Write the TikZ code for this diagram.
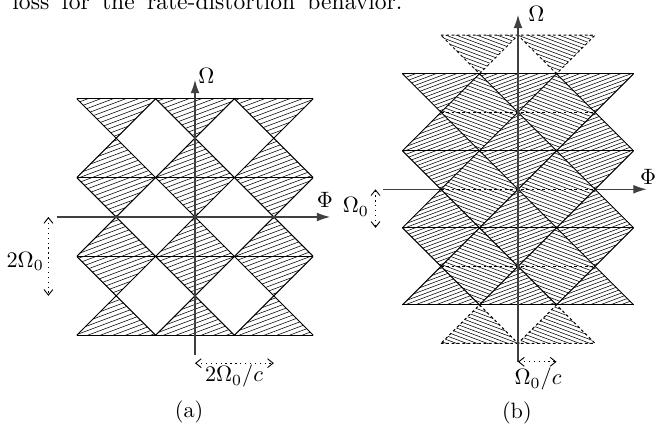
\documentclass[tikz,border=0pt]{standalone}
\usepackage{amsmath}
\usetikzlibrary{arrows.meta}

\begin{document}
\begin{tikzpicture}[x=0.45pt, y=0.45pt,
  edge/.style={line width=0.45pt},
  ghost/.style={line width=0.45pt, dash pattern=on 1.2pt off 1.2pt},
  hatchline/.style={line width=0.25pt},
  axis/.style={line width=0.6pt, draw=black!75, -{Latex[length=6pt,width=4pt]}},
  span/.style={line width=0.4pt, dash pattern=on 0.6pt off 1.6pt,
               {Straight Barb[length=2.5pt,width=4pt]}-{Straight Barb[length=2.5pt,width=4pt]}}]

  \useasboundingbox (0,0) rectangle (655,427);
  \node[anchor=base west, inner sep=0pt, font=\fontsize{10.6}{12}\selectfont] (text) at (12,417)
       {\makebox[175.5pt][s]{loss for the rate-distortion behavior.}};

  % (a)
  \begin{scope}[shift={(195,210)}, x=17.73pt, y=17.73pt]
    \begin{scope}
      \clip (-3,-3) rectangle (3,3);
      \clip \foreach \cx in {-2,0,2} {\foreach \cy in {-3,-1,1,3}
            {(\cx-1,\cy) -- (\cx,\cy+1) -- (\cx+1,\cy) -- (\cx,\cy-1) -- cycle}};
      \foreach \i in {-55,...,30}
        \draw[hatchline] (-4,\i*0.12) -- (4,\i*0.12+3.0);
    \end{scope}
    \begin{scope}
      \clip (-3,-3) rectangle (3,3);
      \foreach \k in {-6,-4,...,6} {
        \draw[edge] (\k-4,-4) -- (\k+4,4);
        \draw[edge] (\k-4,4) -- (\k+4,-4);
      }
    \end{scope}
    \foreach \y in {-3,-1,1,3}
      \draw[edge] (-3,\y) -- (3,\y);

    \coordinate (a-west) at (-3.51,0);
    \coordinate (a-east) at (3.43,0);
    \coordinate (a-south) at (0,-3.5);
    \coordinate (a-north) at (0,3.48);
    \draw[axis] (a-west) -- (a-east);
    \draw[axis] (a-south) -- (a-north);
    \node (a-phi) at (3.3,0.43) {$\Phi$};
    \node (a-omega) at (0.29,3.58) {$\Omega$};

    \coordinate (a-top) at (-3.72,0);
    \coordinate (a-bot) at (-3.72,-2);
    \draw[span] (a-top) -- (a-bot);
    \node (a-height) at (-4.31,-1.13) {$2\Omega_0$};
    \coordinate (a-left) at (0,-3.71);
    \coordinate (a-right) at (2,-3.71);
    \draw[span] (a-left) -- (a-right);
    \node (a-width) at (0.99,-4.04) {$2\Omega_0/c$};
    \node (a-cap) at (-0.15,-4.95) {(a)};
  \end{scope}

  % (b)
  \begin{scope}[shift={(518,237.7)}, x=17.33pt, y=17.33pt]
    \begin{scope}
      \clip (-3,-3) rectangle (3,3);
      \clip \foreach \cx in {-2,0,2} {\foreach \cy in {-3,-1,1,3}
            {(\cx-1,\cy) -- (\cx,\cy+1) -- (\cx+1,\cy) -- (\cx,\cy-1) -- cycle}};
      \foreach \i in {-70,...,35}
        \draw[hatchline] (-4,\i*0.1) -- (4,\i*0.1+3.0);
    \end{scope}

    \coordinate (b-west) at (-3.5,0);
    \coordinate (b-east) at (3.34,0);
    \draw[axis] (b-west) -- (b-east);

    \begin{scope}
      \clip (-2,-4) rectangle (2,4);
      \clip \foreach \cx in {-1,1} {\foreach \cy in {-4,-2,0,2,4}
            {(\cx-1,\cy) -- (\cx,\cy+1) -- (\cx+1,\cy) -- (\cx,\cy-1) -- cycle}};
      \fill[white] (-2,-4) rectangle (2,4);
      \foreach \i in {-45,...,80}
        \draw[hatchline] (-4,\i*0.1) -- (4,\i*0.1-3.0);
    \end{scope}

    \begin{scope}
      \clip (-3,-3) rectangle (3,3);
      \foreach \k in {-6,-4,...,6} {
        \draw[edge] (\k-4,-4) -- (\k+4,4);
        \draw[edge] (\k-4,4) -- (\k+4,-4);
      }
    \end{scope}
    \foreach \y in {-3,-1,1,3}
      \draw[edge] (-3,\y) -- (3,\y);
    \foreach \y in {-2,0,2}
      \draw[ghost] (-2,\y) -- (2,\y);
    \draw[ghost] (-2,4) -- (2,4) -- (1,3) -- (0,4) -- (-1,3) -- cycle;
    \draw[ghost] (-2,-4) -- (2,-4) -- (1,-3) -- (0,-4) -- (-1,-3) -- cycle;

    \coordinate (b-south) at (0,-4.48);
    \coordinate (b-north) at (0,4.53);
    \draw[axis] (b-south) -- (b-north);
    \node (b-phi) at (3.38,0.33) {$\Phi$};
    \node (b-omega) at (0.48,4.55) {$\Omega$};

    \coordinate (b-top) at (-3.7,0);
    \coordinate (b-bot) at (-3.7,-1);
    \draw[span] (b-top) -- (b-bot);
    \node (b-height) at (-4.21,-0.46) {$\Omega_0$};
    \coordinate (b-left) at (0,-4.48);
    \coordinate (b-right) at (1,-4.48);
    \draw[span] (b-left) -- (b-right);
    \node (b-width) at (0.52,-4.93) {$\Omega_0/c$};
    \node (b-cap) at (-0.03,-5.81) {(b)};
  \end{scope}
\end{tikzpicture}
\end{document}
